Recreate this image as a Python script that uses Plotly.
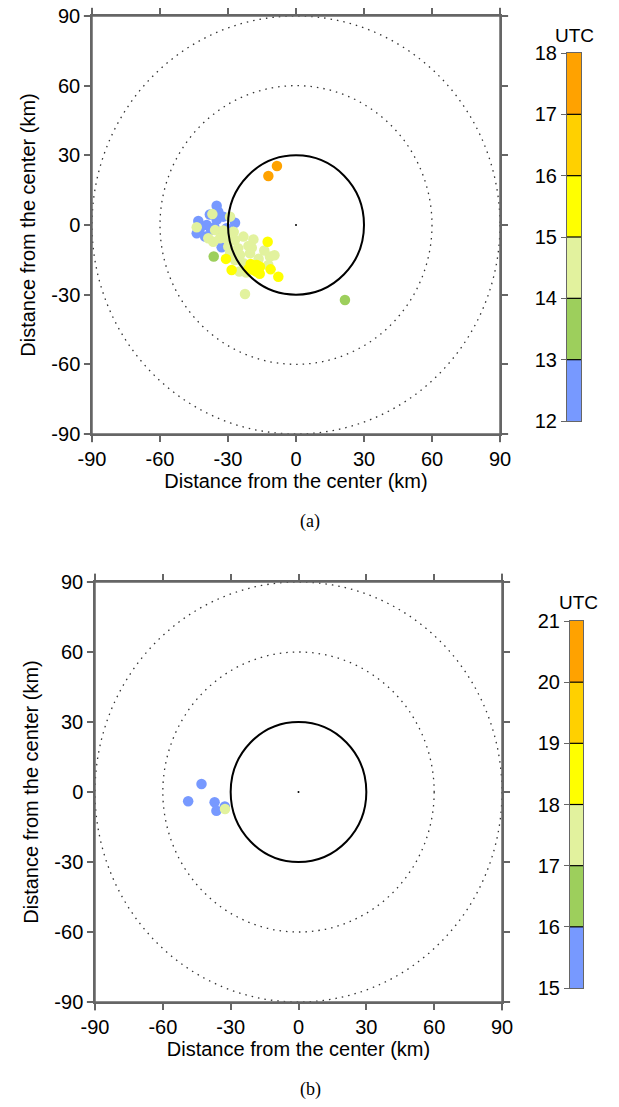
import plotly.graph_objects as go

W, H = 619, 1107

# ---------------- data ----------------
# Panel (a): event positions (km) and UTC hour
A_X = [-8.4, -12.2,
       -36.3, 21.6,
       -35.0, -26.9, -43.1, -43.8, -40.1, -32.8, -35.0, -39.4, -32.1, -34.3, -42.3, -30.6, -37.5, -33.0, -38.0, -36.0,
       -36.9, -29.1, -43.8, -35.7, -32.1, -38.7, -36.5, -33.5, -27.7, -23.2, -18.8, -26.9, -21.0, -25.5, -29.1, -24.7,
       -20.3, -26.9, -23.2, -22.5, -11.5, -12.2, -22.5, -29.9, -16.5, -19.5, -30.5, -14.0, -9.5, -25.0, -22.0, -27.5,
       -12.5, -30.9, -28.4, -20.0, -17.3, -15.9, -17.3, -11.2, -7.8, -19.0, -18.5, -16.0, -21.0]
A_Y = [25.4, 21.1,
       -13.6, -32.3,
       8.3, 1.0, 1.7, -3.6, -5.0, -9.6, 2.2, 0.0, 3.6, 5.7, -1.4, -1.4, -2.0, -4.0, 4.5, -1.0,
       4.7, 3.6, -1.0, -2.2, -2.4, -5.7, -7.2, -5.7, -2.9, -5.0, -6.2, -6.5, -9.0, -10.0, -12.2, -12.9,
       -12.2, -15.1, -16.5, -18.6, -13.6, -17.2, -29.7, -9.3, -14.5, -9.8, -6.0, -11.0, -13.0, -20.0, -20.5, -3.0,
       -7.2, -14.6, -19.4, -16.8, -17.2, -18.0, -20.1, -19.1, -22.3, -18.5, -19.5, -21.0, -19.0]
A_T = [17.5, 17.5,
       13.5, 13.5,
       12.5, 12.5, 12.5, 12.5, 12.5, 12.5, 12.5, 12.5, 12.5, 12.5, 12.5, 12.5, 12.5, 12.5, 12.5, 12.5,
       14.5, 14.5, 14.5, 14.5, 14.5, 14.5, 14.5, 14.5, 14.5, 14.5, 14.5, 14.5, 14.5, 14.5, 14.5, 14.5,
       14.5, 14.5, 14.5, 14.5, 14.5, 14.5, 14.5, 14.5, 14.5, 14.5, 14.5, 14.5, 14.5, 14.5, 14.5, 14.5,
       15.5, 15.5, 15.5, 15.5, 15.5, 15.5, 15.5, 15.5, 15.5, 15.5, 15.5, 15.5, 15.5]

# Panel (b)
B_X = [-42.9, -48.8, -37.1, -36.3, -32.6, -32.5]
B_Y = [3.4, -4.0, -4.4, -8.0, -6.2, -7.3]
B_T = [15.5, 15.5, 15.5, 15.5, 15.5, 17.5]

A_CB_TICKS = [12, 13, 14, 15, 16, 17, 18]
B_CB_TICKS = [15, 16, 17, 18, 19, 20, 21]
AXIS_TICKS = [-90, -60, -30, 0, 30, 60, 90]
AXIS_TICK_LABELS = ["-90", "-60", "-30", "0", "30", "60", "90"]
RINGS_DOTTED = [60, 90]
RING_SOLID = 30
BIN_COLORS = ["#7799ff", "#9dcf5c", "#e2f29e", "#ffff00", "#ffd000", "#ffa200"]

def discrete_scale(colors):
    n = len(colors)
    sc = []
    for i, c in enumerate(colors):
        sc.append([i / n, c])
        sc.append([(i + 1) / n, c])
    return sc

CS = discrete_scale(BIN_COLORS)

FONT = "Liberation Sans, Arial, sans-serif"
AXC = "#666666"

fig = go.Figure()

def add_panel(xs, ys, ts, ticks, xa, ya):
    fig.add_trace(go.Scatter(
        x=xs, y=ys, mode="markers", xaxis=xa, yaxis=ya,
        marker=dict(size=10.5, color=ts, colorscale=CS, cmin=ticks[0], cmax=ticks[-1],
                    line=dict(width=0), opacity=1),
        showlegend=False, hoverinfo="skip"))
    # tiny centre mark
    fig.add_trace(go.Scatter(x=[0], y=[0], mode="markers", xaxis=xa, yaxis=ya,
                             marker=dict(size=2, color="black"), showlegend=False))

def add_cbar(ticks, xa, ya):
    centers = [t + 0.5 for t in ticks[:-1]]
    fig.add_trace(go.Heatmap(
        z=[[c] for c in centers], y=centers, x=[0], xaxis=xa, yaxis=ya,
        colorscale=CS, zmin=ticks[0], zmax=ticks[-1], showscale=False, hoverinfo="skip"))

add_panel(A_X, A_Y, A_T, A_CB_TICKS, "x", "y")
add_panel(B_X, B_Y, B_T, B_CB_TICKS, "x2", "y2")
add_cbar(A_CB_TICKS, "x3", "y3")
add_cbar(B_CB_TICKS, "x4", "y4")

def py(p):  # pixel y -> paper
    return 1 - p / H

def px(p):
    return p / W

main_ax = dict(range=[-90, 90], tickvals=AXIS_TICKS, ticktext=AXIS_TICK_LABELS,
               ticks="outside", ticklen=6, tickwidth=1.5,
               tickcolor=AXC, showline=True, linecolor=AXC, linewidth=1.5, mirror="ticks",
               showgrid=False, zeroline=False, tickfont=dict(family=FONT, size=20, color="black"),
               fixedrange=True, automargin=False)
ttl = "Distance from the center (km)"
tfont = dict(family=FONT, size=20, color="black")

cb_x = dict(range=[-0.5, 0.5], showticklabels=False, ticks="", showline=True, linecolor=AXC,
            linewidth=1, mirror=True, showgrid=False, zeroline=False, automargin=False)

def cb_y(ticks, dom):
    return dict(range=[ticks[0], ticks[-1]], tickvals=ticks, ticks="outside", ticklen=5,
                tickcolor=AXC, side="left", showline=True, linecolor=AXC, linewidth=1, mirror=True,
                showgrid=False, zeroline=False, domain=dom, automargin=False,
                tickfont=dict(family=FONT, size=20, color="black"))

fig.update_layout(
    width=W, height=H, margin=dict(l=0, r=0, t=0, b=0),
    paper_bgcolor="white", plot_bgcolor="white",
    xaxis=dict(main_ax, domain=[px(92), px(500)], anchor="y",
               title=dict(text=ttl, font=tfont, standoff=4)),
    yaxis=dict(main_ax, domain=[py(434), py(16)], anchor="x",
               title=dict(text=ttl, font=tfont, standoff=10)),
    xaxis2=dict(main_ax, domain=[px(95), px(502)], anchor="y2",
                title=dict(text=ttl, font=tfont, standoff=4)),
    yaxis2=dict(main_ax, domain=[py(1002), py(582)], anchor="x2",
                title=dict(text=ttl, font=tfont, standoff=10)),
    xaxis3=dict(cb_x, domain=[px(567), px(581)], anchor="y3"),
    yaxis3=dict(cb_y(A_CB_TICKS, [py(421), py(53)]), anchor="x3"),
    xaxis4=dict(cb_x, domain=[px(570), px(583)], anchor="y4"),
    yaxis4=dict(cb_y(B_CB_TICKS, [py(988), py(621)]), anchor="x4"),
)

shapes = []
EXT = 0.02  # axis-frame overhang past the corners (fraction of axis length)
for xr, yr in [("x", "y"), ("x2", "y2")]:
    for r in RINGS_DOTTED:
        shapes.append(dict(type="circle", xref=xr, yref=yr, x0=-r, x1=r, y0=-r, y1=r,
                           line=dict(color="#333333", width=1.3, dash="1.5px,5px"), layer="below"))
    shapes.append(dict(type="circle", xref=xr, yref=yr, x0=-RING_SOLID, x1=RING_SOLID,
                       y0=-RING_SOLID, y1=RING_SOLID, line=dict(color="black", width=2), layer="above"))
    xd, yd = xr + " domain", yr + " domain"
    for v in (0, 1):
        shapes.append(dict(type="line", xref=xd, yref=yd, x0=-EXT, x1=1 + EXT, y0=v, y1=v,
                           line=dict(color=AXC, width=1.5)))
        shapes.append(dict(type="line", xref=xd, yref=yd, x0=v, x1=v, y0=-EXT, y1=1 + EXT,
                           line=dict(color=AXC, width=1.5)))
for xr, yr, ticks in [("x3 domain", "y3", A_CB_TICKS), ("x4 domain", "y4", B_CB_TICKS)]:
    for t in ticks[1:-1]:
        shapes.append(dict(type="line", xref=xr, yref=yr, x0=0, x1=1, y0=t, y1=t,
                           line=dict(color="black", width=1.2)))
fig.update_layout(shapes=shapes)

def txt(t, x, y, size, fam=FONT):
    return dict(text=t, x=px(x), y=py(y), xref="paper", yref="paper", showarrow=False,
                xanchor="center", yanchor="middle", font=dict(family=fam, size=size, color="black"))

SERIF = "Liberation Serif, Times New Roman, serif"
ann = [
    txt("UTC", 574, 35, 19),
    txt("UTC", 578, 602, 19),
    txt("(a)", 310, 521, 18, SERIF),
    txt("(b)", 310, 1089, 18, SERIF),
]
fig.update_layout(annotations=ann)

fig.write_html("out.html")
